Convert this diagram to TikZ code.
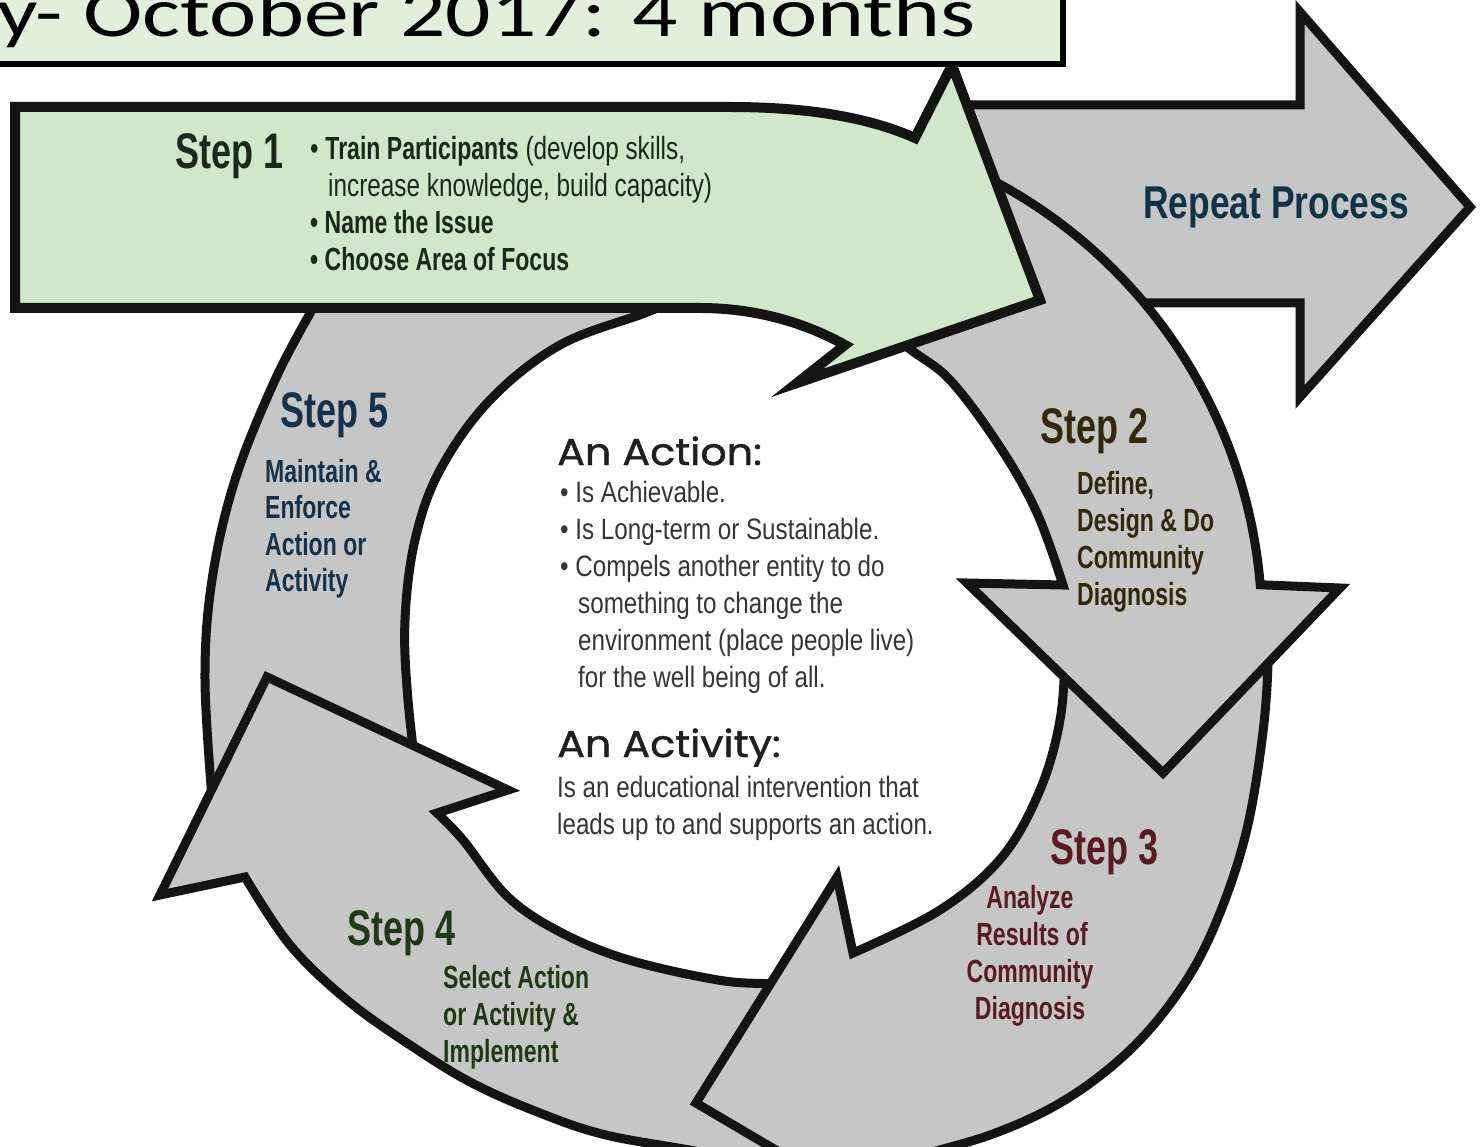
\documentclass[tikz,border=0pt]{standalone}
\usepackage{fontspec}
\newfontfamily\cnd[FakeStretch=0.72]{Liberation Sans}
\newfontfamily\cndr[FakeStretch=0.76]{Liberation Sans}
\newfontfamily\cndw[FakeStretch=0.77]{Liberation Sans}
\newfontfamily\cndl[FakeStretch=0.82]{Liberation Sans}
\newfontfamily\geo[FakeStretch=1.1,FakeBold=1.2]{Poppins}
\newfontfamily\ttl[FakeStretch=1.28]{Carlito}
\definecolor{tfill}{HTML}{E2EFDA}
\definecolor{gfill}{HTML}{D0E7CA}
\definecolor{rfill}{HTML}{C6C6C6}
\definecolor{s1col}{HTML}{1C281C}
\definecolor{s2col}{HTML}{33280A}
\definecolor{s3col}{HTML}{5A1A22}
\definecolor{s4col}{HTML}{1F3A14}
\definecolor{s5col}{HTML}{15324A}
\definecolor{repcol}{HTML}{0F3448}
\definecolor{txtcol}{HTML}{353535}
\begin{document}
\begin{tikzpicture}[x=1pt,y=-1pt,line join=miter,
  ringshape/.style={draw=black!92,line width=9pt,fill=rfill},
  greenshape/.style={draw=black!92,line width=10pt,fill=gfill},
  lbl/.style={inner sep=0pt,anchor=base west},
  steplbl/.style={lbl,font=\cnd\bfseries\fontsize{50}{50}\selectfont},
  stepbody/.style={lbl,font=\cnd\bfseries\fontsize{32}{37}\selectfont},
  onebody/.style={lbl,font=\cndr\fontsize{32}{37}\selectfont,text=s1col},
  onebold/.style={lbl,font=\cnd\bfseries\fontsize{32}{37}\selectfont,text=s1col},
  ctr/.style={lbl,font=\cndl\fontsize{29.5}{37}\selectfont,text=txtcol},
  ctrhead/.style={lbl,font=\geo\fontsize{37.5}{40}\selectfont,text=black!88}]
\useasboundingbox (0,0) rectangle (1482,1147);
\clip (0,0) rectangle (1482,1147);
\fill[white] (0,0) rectangle (1482,1147);

% Repeat process arrow
\draw[ringshape] (940,105) -- (1300,105) -- (1300,12) -- (1470,207) -- (1300,397) -- (1300,303) -- (940,303) -- cycle;

% Step 5
\draw[ringshape] (330,280) -- plot[smooth,tension=0.6] coordinates {(312,310) (275,380) (235,480) (212,580) (205,680) (213,810)}
  -- plot[smooth,tension=0.6] coordinates {(420,805) (408,700) (405,620) (415,540) (440,470) (490,400) (560,345) (645,313) (680,298)}
  -- (680,280) -- cycle;

% Step 4
\draw[ringshape] (437,813) -- (508,790) -- (267,677) -- (160,895)
  -- plot[smooth,tension=0.6] coordinates {(245,877) (290,945) (347,1000) (410,1045) (472,1083) (540,1113) (606,1135) (700,1152) (780,1170)}
  -- (840,1172)
  -- plot[smooth,tension=0.6] coordinates {(820,987) (772,984) (718,980) (629,960) (562,933) (508,897) (463,840) (437,813)} -- cycle;

% Step 3
\draw[ringshape] (1063,612)
  -- plot[smooth,tension=0.6] coordinates {(1264,612) (1268,660) (1262,740) (1245,837) (1215,925) (1180,990) (1130,1050) (1065,1100) (990,1135) (900,1160)}
  -- (820,1176) -- (696,1103) -- (837,877)
  -- plot[smooth,tension=0.6] coordinates {(853,953) (940,910) (1002,857) (1040,790) (1060,720) (1065,650) (1063,612)} -- cycle;

% Step 2
\draw[ringshape] (930,160) -- ([shift={(757,627)}]-63.4:505) arc[start angle=-63.4,end angle=-4.8,radius=505]
  -- (1340,588) -- (1163,773) -- (967,583)
  -- plot[smooth,tension=0.6] coordinates {(1063,585) (1037,513) (1000,447) (950,380) (905,345) (860,300)} -- cycle;

% Step 1 (green)
\draw[greenshape] (15,107) -- (730,107) .. controls (810,107) and (870,118) .. (915,138) -- (952,65) -- (1040,300) -- (797,383) -- (845,345) .. controls (800,320) and (750,308) .. (700,308) -- (15,308) -- cycle;

% Title box
\draw[line width=6pt,fill=tfill] (-20,-20) rectangle (1063,64);
\node[inner sep=0pt,anchor=base east,font=\ttl\fontsize{70}{70}\selectfont] (title) at (976,37) {y- October 2017: 4 months};

% Step 1 texts
\node[steplbl,text=s1col] (s1) at (175,169) {Step 1};
\node[onebody] (s1a) at (310,160) {\textbullet\ {\cnd\bfseries Train Participants} (develop skills,};
\node[onebody] (s1b) at (328,197) {increase knowledge, build capacity)};
\node[onebold] (s1c) at (310,234) {\textbullet\ Name the Issue};
\node[onebold] (s1d) at (310,271) {\textbullet\ Choose Area of Focus};

% Repeat
\node[lbl,font=\cndw\bfseries\fontsize{46}{46}\selectfont,text=repcol] (rep) at (1143,219) {Repeat Process};

% Step 2
\node[steplbl,text=s2col] (s2) at (1040,443) {Step 2};
\node[stepbody,text=s2col] (s2a) at (1077,494) {Define,};
\node[stepbody,text=s2col] (s2b) at (1077,531) {Design \& Do};
\node[stepbody,text=s2col] (s2c) at (1077,568) {Community};
\node[stepbody,text=s2col] (s2d) at (1077,605) {Diagnosis};

% Step 3
\node[steplbl,text=s3col] (s3) at (1050,864) {Step 3};
\node[stepbody,anchor=base,text=s3col] (s3a) at (1030,908) {Analyze};
\node[stepbody,anchor=base,text=s3col] (s3b) at (1032,945) {Results of};
\node[stepbody,anchor=base,text=s3col] (s3c) at (1030,982) {Community};
\node[stepbody,anchor=base,text=s3col] (s3d) at (1030,1019) {Diagnosis};

% Step 4
\node[steplbl,text=s4col] (s4) at (347,945) {Step 4};
\node[stepbody,text=s4col] (s4a) at (443,988) {Select Action};
\node[stepbody,text=s4col] (s4b) at (443,1025) {or Activity \&};
\node[stepbody,text=s4col] (s4c) at (443,1062) {Implement};

% Step 5
\node[steplbl,text=s5col] (s5) at (280,427) {Step 5};
\node[stepbody,text=s5col] (s5a) at (265,482) {Maintain \&};
\node[stepbody,text=s5col] (s5b) at (265,518) {Enforce};
\node[stepbody,text=s5col] (s5c) at (265,555) {Action or};
\node[stepbody,text=s5col] (s5d) at (265,591) {Activity};

% Centre
\node[ctrhead] (act) at (557,465) {An Action:};
\node[ctr] (c1) at (560,502) {\textbullet\ Is Achievable.};
\node[ctr] (c2) at (560,539) {\textbullet\ Is Long-term or Sustainable.};
\node[ctr] (c3) at (560,576) {\textbullet\ Compels another entity to do};
\node[ctr] (c4) at (578,613) {something to change the};
\node[ctr] (c5) at (578,650) {environment (place people live)};
\node[ctr] (c6) at (578,687) {for the well being of all.};
\node[ctrhead] (acty) at (557,757) {An Activity:};
\node[ctr] (d1) at (557,797) {Is an educational intervention that};
\node[ctr] (d2) at (557,834) {leads up to and supports an action.};
\end{tikzpicture}
\end{document}
